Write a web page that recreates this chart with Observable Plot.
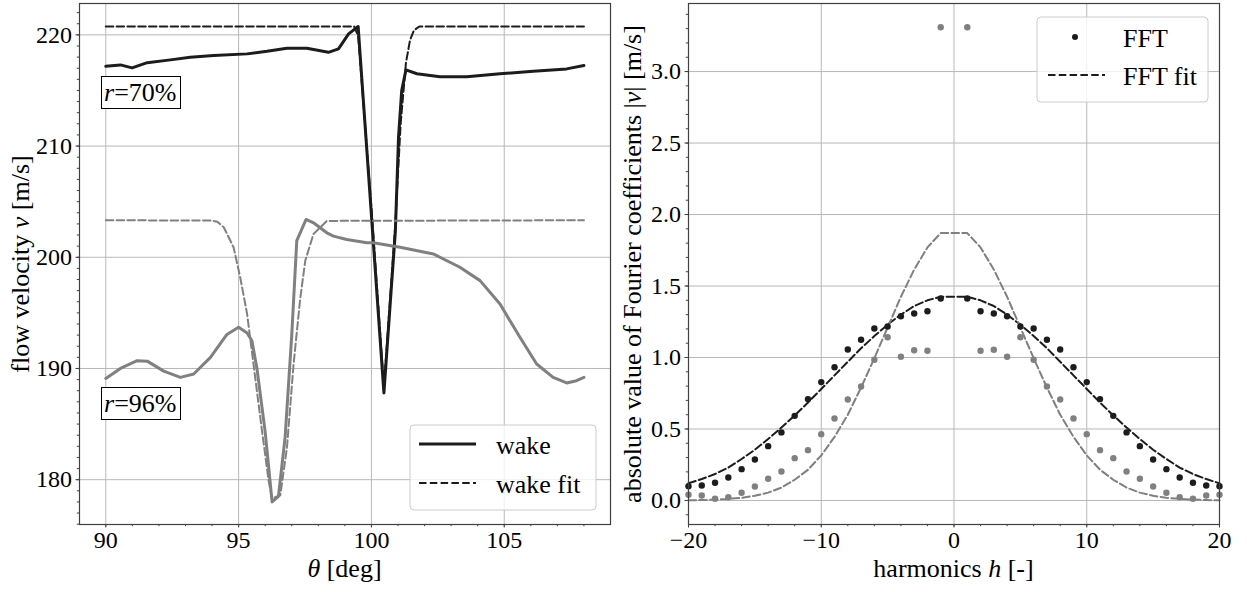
<!DOCTYPE html>
<html><head><meta charset="utf-8">
<script src="https://cdn.jsdelivr.net/npm/d3@7"></script>
<script src="https://cdn.jsdelivr.net/npm/@observablehq/plot@0.6"></script>
<style>
body{margin:0;background:#fff;}
#wrap{position:relative;width:1247px;height:592px;overflow:hidden;background:#fff;font-family:"Liberation Serif",serif;color:#000;}
#wrap svg, #wrap svg text, #wrap div{font-family:"Liberation Serif",serif !important;}
#left,#right{position:absolute;top:0;}
#left{left:0;} #right{left:620px;}
.lab{position:absolute;white-space:nowrap;font-size:26px;line-height:1;}
.rot{transform:translate(-50%,-50%) rotate(-90deg);}
.box{position:absolute;border:1px solid #000;background:#fff;font-size:26px;height:31px;line-height:31px;padding:0 3px 0 2px;white-space:nowrap;}
.leg{position:absolute;}
</style>
</head><body>
<div id="wrap"><div id="left"></div><div id="right"></div></div>
<script>
// ---------- left panel: flow velocity over theta ----------
const theta70 = [90.0, 90.55, 90.99, 91.56, 92.43, 93.18, 94.06, 95.32, 96.07, 96.82, 97.57, 98.38, 98.76, 99.14, 99.5, 100.47, 100.75, 100.9, 101.02, 101.14, 101.3, 101.71, 102.58, 103.59, 104.84, 106.09, 107.35, 108.0];
const wake70 = [217.17, 217.3, 217.03, 217.5, 217.75, 217.98, 218.14, 218.29, 218.52, 218.8, 218.8, 218.43, 218.74, 220.09, 220.75, 187.8, 197.3, 202.3, 210.8, 215.0, 216.85, 216.5, 216.24, 216.24, 216.5, 216.72, 216.94, 217.24];
const thetaFit70 = [90.0, 99.35, 99.5, 100.0, 100.47, 100.9, 101.1, 101.3, 101.45, 101.6, 101.8, 108.0];
const wakeFit70 = [220.75, 220.75, 219.9, 204.5, 188.3, 203.0, 212.0, 217.5, 219.5, 220.4, 220.75, 220.75];
const theta96 = [90.0, 90.55, 91.18, 91.56, 92.18, 92.81, 93.31, 93.94, 94.56, 95.0, 95.32, 95.5, 95.69, 96.0, 96.26, 96.5, 96.75, 97.0, 97.19, 97.54, 97.82, 98.32, 98.57, 99.07, 99.83, 100.07, 101.08, 102.33, 103.33, 104.09, 104.84, 105.59, 106.22, 106.84, 107.35, 107.72, 108.0];
const wake96 = [189.1, 190.0, 190.7, 190.66, 189.76, 189.2, 189.5, 191.0, 193.06, 193.7, 193.2, 192.5, 190.0, 184.3, 178.0, 178.5, 183.8, 193.0, 201.5, 203.4, 203.1, 202.2, 201.9, 201.6, 201.3, 201.3, 200.9, 200.3, 199.1, 197.9, 195.8, 192.8, 190.4, 189.2, 188.7, 188.9, 189.2];
const thetaFit96 = [90.0, 93.94, 94.2, 94.44, 94.81, 95.06, 95.32, 95.56, 95.88, 96.13, 96.26, 96.57, 96.82, 97.07, 97.32, 97.51, 97.82, 98.32, 108.0];
const wakeFit96 = [203.33, 203.3, 203.2, 202.7, 200.9, 198.2, 194.9, 190.4, 184.4, 179.9, 178.3, 178.6, 182.9, 190.4, 196.3, 199.7, 202.1, 203.27, 203.33];
const thetaTicks = [90, 95, 100, 105];
const velocityTicks = [180, 190, 200, 210, 220];
const radiusLabels = ["r=70%", "r=96%"];
const radiusLabelTheta = [89.84, 89.84];
const radiusLabelV = [216.24, 188.25];

// ---------- right panel: Fourier coefficients ----------
const harmonics = [-20,-19,-18,-17,-16,-15,-14,-13,-12,-11,-10,-9,-8,-7,-6,-5,-4,-3,-2,-1,1,2,3,4,5,6,7,8,9,10,11,12,13,14,15,16,17,18,19,20];
const fft70 = [0.100,0.105,0.124,0.161,0.219,0.287,0.380,0.476,0.592,0.709,0.828,0.932,1.056,1.124,1.203,1.217,1.289,1.308,1.324,1.413,
               1.413,1.324,1.308,1.289,1.217,1.203,1.124,1.056,0.932,0.828,0.709,0.592,0.476,0.380,0.287,0.219,0.161,0.124,0.105,0.100];
const fft96 = [0.040,0.035,0.012,0.023,0.054,0.098,0.152,0.203,0.296,0.352,0.464,0.573,0.706,0.797,0.984,1.142,1.005,1.051,1.047,3.31,
               3.31,1.047,1.054,1.005,1.142,0.984,0.797,0.706,0.573,0.464,0.352,0.296,0.203,0.152,0.098,0.054,0.023,0.012,0.035,0.040];
const fftFit70 = [0.12,0.15,0.185,0.23,0.29,0.355,0.43,0.51,0.595,0.685,0.78,0.875,0.97,1.065,1.15,1.23,1.30,1.36,1.40,1.425,
                  1.425,1.40,1.36,1.30,1.23,1.15,1.065,0.97,0.875,0.78,0.685,0.595,0.51,0.43,0.355,0.29,0.23,0.185,0.15,0.12];
const fftFit96 = [0.0015,0.003,0.006,0.011,0.019,0.033,0.055,0.09,0.145,0.215,0.315,0.445,0.60,0.79,0.995,1.21,1.425,1.615,1.77,1.87,
                  1.87,1.77,1.615,1.425,1.21,0.995,0.79,0.60,0.445,0.315,0.215,0.145,0.09,0.055,0.033,0.019,0.011,0.006,0.003,0.0015];
const harmonicTicks = [-20, -10, 0, 10, 20];
const coefTicks = [0.0, 0.5, 1.0, 1.5, 2.0, 2.5, 3.0];

const BLACK = "#1c1c1c", GRAY = "#808080", GRID = "#b8b8b8", SPINE = "#404040";
const DASH = "7.5,3.3";
const FONT = "Liberation Serif, serif";
const tbl = (xs, ys) => xs.map((x, i) => ({x, y: ys[i]}));
const minus = d => d < 0 ? "\u2212" + (-d) : String(d);

// left
const lxDom = [89.01, 109.0], lyDom = [175.97, 222.82];
const lxMinor = d3.range(90, 109, 1);
const lyMinor = d3.range(176, 223, 1);
const leftPlot = Plot.plot({
  width: 620, height: 592, marginLeft: 79, marginRight: 10, marginTop: 3, marginBottom: 68,
  style: {fontFamily: FONT, fontSize: "24px", color: "#000", background: "#fff", overflow: "visible"},
  x: {domain: lxDom, label: null},
  y: {domain: lyDom, label: null},
  marks: [
    Plot.gridX(thetaTicks, {stroke: GRID, strokeOpacity: 1, strokeWidth: 1}),
    Plot.gridY(velocityTicks, {stroke: GRID, strokeOpacity: 1, strokeWidth: 1}),
    Plot.axisX(lxMinor, {tickSize: 2.2, tickFormat: () => "", stroke: SPINE}),
    Plot.axisY(lyMinor, {tickSize: 2.2, tickFormat: () => "", stroke: SPINE}),
    Plot.axisX(thetaTicks, {tickSize: 3.5, tickPadding: 3, fontSize: 24, fontFamily: FONT, stroke: SPINE, tickFormat: minus}),
    Plot.axisY(velocityTicks, {tickSize: 3.5, tickPadding: 4, fontSize: 24, fontFamily: FONT, stroke: SPINE, tickFormat: minus}),
    Plot.line(tbl(theta70, wake70), {x: "x", y: "y", stroke: BLACK, strokeWidth: 3}),
    Plot.line(tbl(thetaFit70, wakeFit70), {x: "x", y: "y", stroke: BLACK, strokeWidth: 2, strokeDasharray: DASH}),
    Plot.line(tbl(theta96, wake96), {x: "x", y: "y", stroke: GRAY, strokeWidth: 3}),
    Plot.line(tbl(thetaFit96, wakeFit96), {x: "x", y: "y", stroke: GRAY, strokeWidth: 2, strokeDasharray: DASH}),
    Plot.frame({stroke: SPINE, strokeWidth: 1.2})
  ]
});
document.getElementById("left").appendChild(leftPlot);

// right
const rxDom = [-20, 20], ryDom = [-0.168, 3.476];
const rxMinor = d3.range(-20, 21, 2);
const ryMinor = d3.range(-1, 35, 1).map(d => d / 10);
const rightPlot = Plot.plot({
  width: 627, height: 592, marginLeft: 68, marginRight: 28, marginTop: 3, marginBottom: 68,
  style: {fontFamily: FONT, fontSize: "24px", color: "#000", background: "#fff", overflow: "visible"},
  x: {domain: rxDom, label: null},
  y: {domain: ryDom, label: null},
  marks: [
    Plot.gridX(harmonicTicks, {stroke: GRID, strokeOpacity: 1, strokeWidth: 1}),
    Plot.gridY(coefTicks, {stroke: GRID, strokeOpacity: 1, strokeWidth: 1}),
    Plot.axisX(rxMinor, {tickSize: 2.2, tickFormat: () => "", stroke: SPINE}),
    Plot.axisY(ryMinor, {tickSize: 2.2, tickFormat: () => "", stroke: SPINE}),
    Plot.axisX(harmonicTicks, {tickSize: 3.5, tickPadding: 3, fontSize: 24, fontFamily: FONT, stroke: SPINE, tickFormat: minus}),
    Plot.axisY(coefTicks, {tickSize: 3.5, tickPadding: 4, fontSize: 24, fontFamily: FONT, stroke: SPINE, tickFormat: d3.format(".1f")}),
    Plot.line(tbl(harmonics, fftFit70), {x: "x", y: "y", stroke: BLACK, strokeWidth: 2, strokeDasharray: DASH}),
    Plot.line(tbl(harmonics, fftFit96), {x: "x", y: "y", stroke: GRAY, strokeWidth: 2, strokeDasharray: DASH}),
    Plot.dot(tbl(harmonics, fft70), {x: "x", y: "y", r: 3.2, fill: BLACK, stroke: "none"}),
    Plot.dot(tbl(harmonics, fft96), {x: "x", y: "y", r: 3.2, fill: GRAY, stroke: "none"}),
    Plot.frame({stroke: SPINE, strokeWidth: 1.2})
  ]
});
document.getElementById("right").appendChild(rightPlot);

// overlays: axis labels, annotation boxes, legends
const wrap = document.getElementById("wrap");
function addDiv(cls, html, style) {
  const d = document.createElement("div");
  d.className = cls; d.innerHTML = html; Object.assign(d.style, style); wrap.appendChild(d); return d;
}
const lsx = leftPlot.scale("x"), lsy = leftPlot.scale("y");
const rsx = rightPlot.scale("x"), rsy = rightPlot.scale("y");
const lMidX = (lsx.apply(lxDom[0]) + lsx.apply(lxDom[1])) / 2;
const lMidY = (lsy.apply(lyDom[0]) + lsy.apply(lyDom[1])) / 2;
const rMidX = 620 + (rsx.apply(rxDom[0]) + rsx.apply(rxDom[1])) / 2;
const rMidY = (rsy.apply(ryDom[0]) + rsy.apply(ryDom[1])) / 2;

addDiv("lab", "<i>θ</i> [deg]", {left: lMidX + "px", top: "556px", transform: "translateX(-50%)"});
addDiv("lab", "harmonics <i>h</i> [-]", {left: rMidX + "px", top: "556px", transform: "translateX(-50%)"});
addDiv("lab rot", "flow velocity <i>v</i> [m/s]", {left: "21px", top: lMidY + "px"});
addDiv("lab rot", "absolute value of Fourier coefficients |<i>v</i>| [m/s]", {left: "633px", top: rMidY + "px"});

radiusLabels.forEach((t, i) => {
  const html = t.replace("r", "<i>r</i>");
  addDiv("box", html, {left: lsx.apply(radiusLabelTheta[i]) + "px", top: lsy.apply(radiusLabelV[i]) + "px"});
});

const NS = "http://www.w3.org/2000/svg";
function legend(x, y, w, h, items) {
  const svg = document.createElementNS(NS, "svg");
  svg.setAttribute("width", w + 2); svg.setAttribute("height", h + 2);
  svg.setAttribute("class", "leg");
  svg.style.left = (x - 1) + "px"; svg.style.top = (y - 1) + "px";
  let s = `<rect x="1" y="1" width="${w}" height="${h}" rx="4" fill="rgba(255,255,255,0.8)" stroke="#cccccc" stroke-width="1"/>`;
  items.forEach(it => {
    if (it.kind === "dot") s += `<circle cx="${it.sx}" cy="${it.sy}" r="3" fill="${BLACK}"/>`;
    else s += `<line x1="${it.sx}" x2="${it.sx + 57}" y1="${it.sy}" y2="${it.sy}" stroke="${BLACK}" stroke-width="${it.kind === "solid" ? 3 : 2}" ${it.kind === "dash" ? `stroke-dasharray="${DASH}"` : ""}/>`;
    s += `<text x="${it.tx}" y="${it.ty}" font-family="Liberation Serif, serif" font-size="26" fill="#000">${it.text}</text>`;
  });
  svg.innerHTML = s;
  wrap.appendChild(svg);
}
legend(410, 425, 186, 85, [
  {kind: "solid", text: "wake", sx: 10, sy: 20, tx: 87, ty: 30},
  {kind: "dash", text: "wake fit", sx: 10, sy: 59, tx: 87, ty: 69}
]);
legend(1037, 17, 171, 85, [
  {kind: "dot", text: "FFT", sx: 39, sy: 21, tx: 87, ty: 31},
  {kind: "dash", text: "FFT fit", sx: 12, sy: 59, tx: 87, ty: 69}
]);
</script>
</body></html>
